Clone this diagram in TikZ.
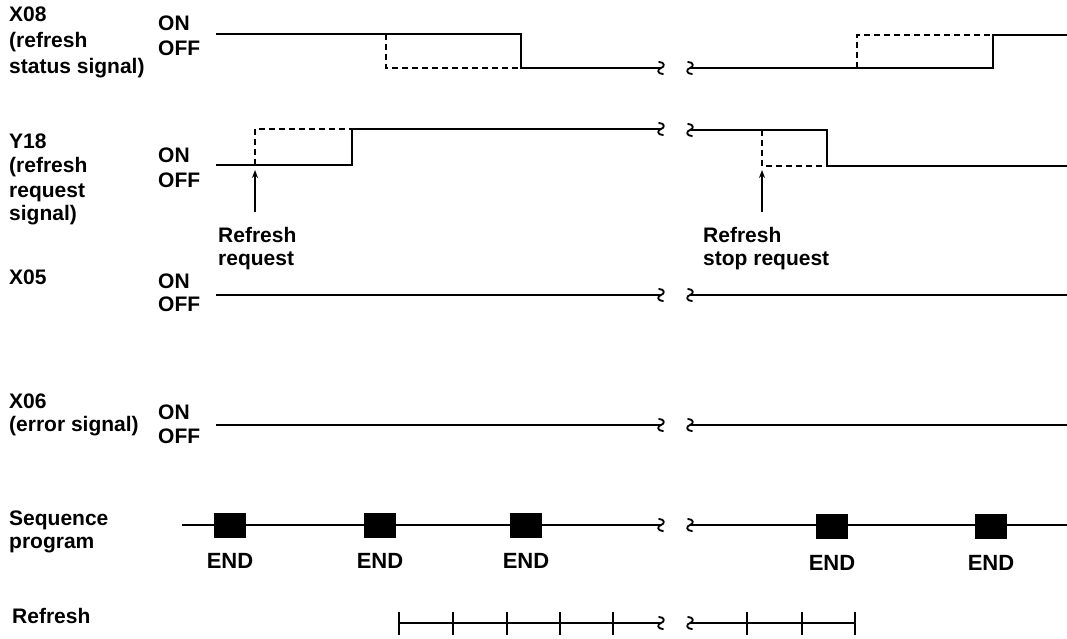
\documentclass[tikz,border=0pt]{standalone}
\usepackage{fontspec}
\setmainfont{Liberation Sans}
\usetikzlibrary{arrows.meta}
\begin{document}
\begin{tikzpicture}[x=1pt,y=-1pt,
  lbl/.style={font=\bfseries\fontsize{21}{24}\selectfont, inner sep=0pt, anchor=base west},
  endlbl/.style={font=\bfseries\fontsize{22}{24}\selectfont, inner sep=0pt, anchor=base},
  sig/.style={line width=1.9pt},
  dsh/.style={line width=1.9pt, dash pattern=on 6pt off 4pt},
  thin/.style={line width=1.5pt},
  endbox/.style={fill=black, draw=none, minimum width=32pt, minimum height=25pt, inner sep=0pt},
  arr/.style={line width=1.5pt, -{Stealth[length=8pt,width=6pt]}},
  brk/.pic={\draw[line width=1.8pt, line cap=round] (-2,-6) .. controls (4,-6) and (4,-1) .. (0,0) .. controls (-4,1) and (-4,6) .. (2,6);}
]
\useasboundingbox (0,0) rectangle (1067,639);

% ---------- left labels ----------
\node[lbl] (x08a) at (9,22) {X08};
\node[lbl] (x08b) at (9,48) {(refresh};
\node[lbl] (x08c) at (9,74) {status signal)};
\node[lbl] (x08on) at (158,31) {ON};
\node[lbl] (x08off) at (158,56) {OFF};

\node[lbl] (y18a) at (9,149) {Y18};
\node[lbl] (y18b) at (9,173) {(refresh};
\node[lbl] (y18c) at (9,197) {request};
\node[lbl] (y18d) at (9,220) {signal)};
\node[lbl] (y18on) at (158,163) {ON};
\node[lbl] (y18off) at (158,187) {OFF};

\node[lbl] (rr1) at (218,242) {Refresh};
\node[lbl] (rr2) at (218,265) {request};
\node[lbl] (rs1) at (703,242) {Refresh};
\node[lbl] (rs2) at (703,265) {stop request};

\node[lbl] (x05a) at (9,284) {X05};
\node[lbl] (x05on) at (158,288) {ON};
\node[lbl] (x05off) at (158,311) {OFF};

\node[lbl] (x06a) at (9,408) {X06};
\node[lbl] (x06b) at (9,431) {(error signal)};
\node[lbl] (x06on) at (158,419) {ON};
\node[lbl] (x06off) at (158,443) {OFF};

\node[lbl] (seqa) at (9,525) {Sequence};
\node[lbl] (seqb) at (9,548) {program};
\node[lbl] (refl) at (12,623) {Refresh};

% ---------- X08 ----------
\draw[sig] (216,34) -- (521,34) -- (521,68) -- (661,68);
\draw[dsh] (386,34) -- (386,68) -- (521,68);
\draw[sig] (690,68) -- (993,68) -- (993,35) -- (1067,35);
\draw[dsh] (857,68) -- (857,35) -- (993,35);
\pic at (661,68) {brk}; \pic at (690,68) {brk};

% ---------- Y18 ----------
\draw[sig] (216,165) -- (352,165) -- (352,129) -- (661,129);
\draw[dsh] (255,165) -- (255,129) -- (352,129);
\draw[sig] (690,130) -- (827,130) -- (827,166) -- (1067,166);
\draw[dsh] (762,130) -- (762,166) -- (827,166);
\pic at (661,129) {brk}; \pic at (690,130) {brk};

\coordinate (a1s) at (255,212); \coordinate (a1e) at (255,170);
\coordinate (a2s) at (762,212); \coordinate (a2e) at (762,170);
\draw[arr] (a1s) -- (a1e);
\draw[arr] (a2s) -- (a2e);

% ---------- X05 ----------
\draw[sig] (216,295) -- (661,295);
\draw[sig] (690,295) -- (1067,295);
\pic at (661,295) {brk}; \pic at (690,295) {brk};

% ---------- X06 ----------
\draw[sig] (216,425) -- (661,425);
\draw[sig] (690,425) -- (1067,425);
\pic at (661,425) {brk}; \pic at (690,425) {brk};

% ---------- Sequence program ----------
\draw[thin] (182,525) -- (661,525);
\draw[thin] (690,525) -- (1067,525);
\pic at (661,525) {brk}; \pic at (690,525) {brk};
\node[endbox] (e1) at (230,525) {};
\node[endbox] (e2) at (380,525) {};
\node[endbox] (e3) at (526,525) {};
\node[endbox] (e4) at (832,526) {};
\node[endbox] (e5) at (991,526) {};
\node[endlbl] (l1) at (230,568) {END};
\node[endlbl] (l2) at (380,568) {END};
\node[endlbl] (l3) at (526,568) {END};
\node[endlbl] (l4) at (832,570) {END};
\node[endlbl] (l5) at (991,570) {END};

% ---------- Refresh ----------
\draw[thin] (399,623) -- (661,623);
\draw[thin] (690,623) -- (855,623);
\pic at (661,623) {brk}; \pic at (690,623) {brk};
\foreach \x in {399,453,507,560,613,747,802,855}
  \draw[thin] (\x,612) -- (\x,635);
\end{tikzpicture}
\end{document}
